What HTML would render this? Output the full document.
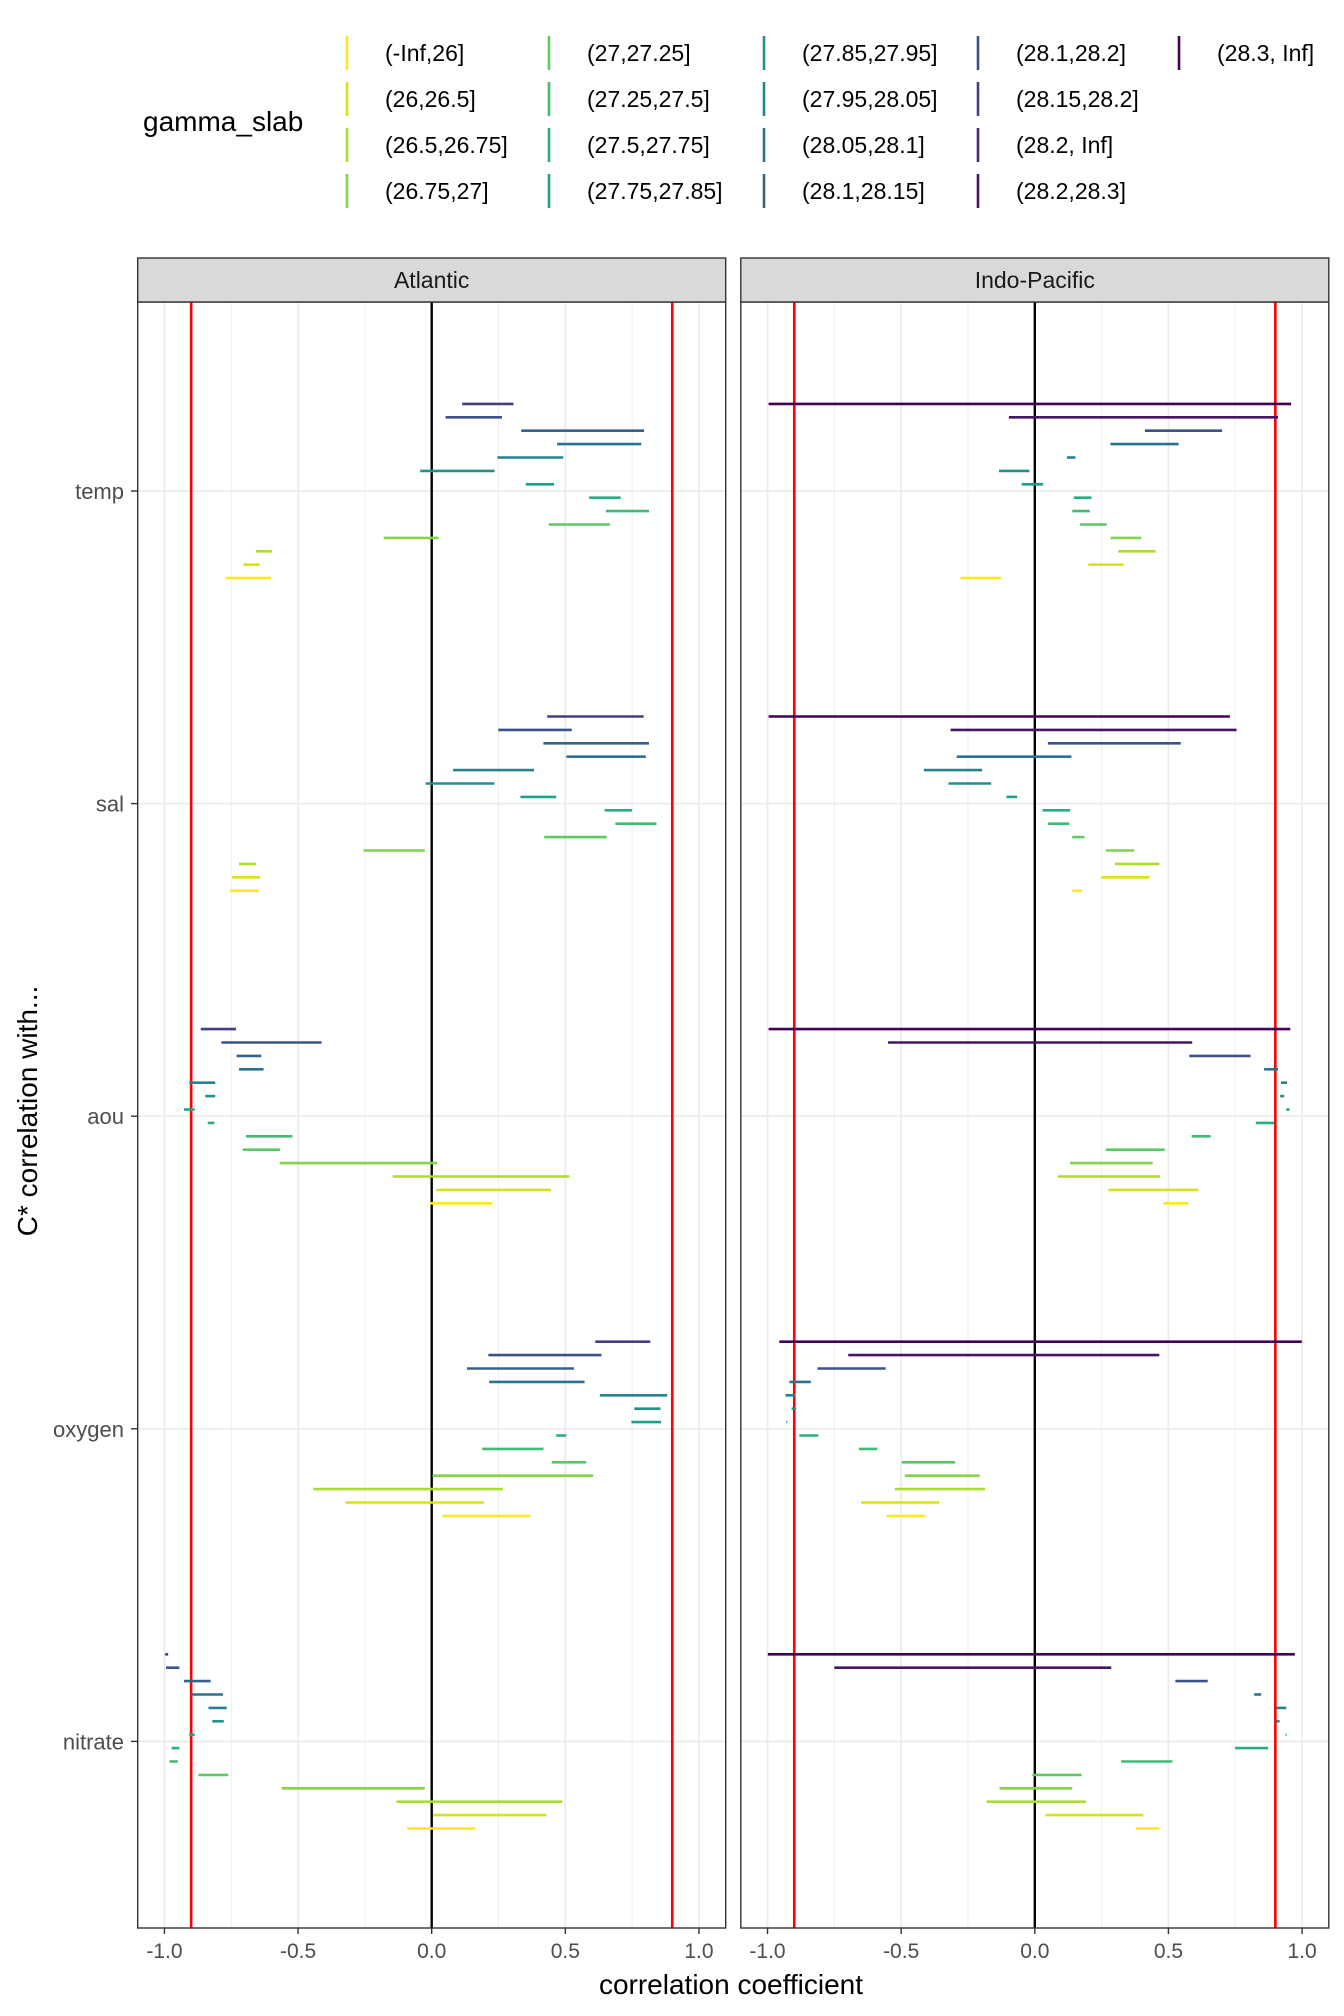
<!DOCTYPE html>
<html><head><meta charset="utf-8"><style>
html,body{margin:0;padding:0;background:#fff;}
svg{display:block;font-family:"Liberation Sans",Arial,sans-serif;}
</style></head><body>
<svg id="chart" width="1344" height="2016" viewBox="0 0 1344 2016" xmlns="http://www.w3.org/2000/svg"></svg>
<script>
const categories = ["temp","sal","aou","oxygen","nitrate"];
const facets = ["Atlantic","Indo-Pacific"];
const legendLevels = ["(-Inf,26]","(26,26.5]","(26.5,26.75]","(26.75,27]","(27,27.25]","(27.25,27.5]","(27.5,27.75]","(27.75,27.85]","(27.85,27.95]","(27.95,28.05]","(28.05,28.1]","(28.1,28.15]","(28.1,28.2]","(28.15,28.2]","(28.2, Inf]","(28.2,28.3]","(28.3, Inf]"];
const xTicks = [-1.0,-0.5,0.0,0.5,1.0];
const xTickLabels = ["-1.0","-0.5","0.0","0.5","1.0"];
const refLines = [-0.9,0.9];
const atlRowLevels = [13,12,11,10,9,8,7,6,5,4,3,2,1,0];
const indoRowLevels = [16,15,12,10,9,8,7,6,5,4,3,2,1,0];
const atlTemp = [[.114,.306],[.052,.263],[.335,.795],[.469,.784],[.246,.492],[-.043,.235],[.352,.458],[.589,.707],[.652,.813],[.438,.667],[-.180,.026],[-.658,-.598],[-.704,-.644],[-.770,-.601]];
const atlSal = [[.432,.793],[.249,.524],[.418,.813],[.504,.801],[.080,.383],[-.023,.235],[.332,.466],[.647,.750],[.687,.841],[.421,.655],[-.255,-.026],[-.721,-.658],[-.747,-.641],[-.755,-.647]];
const atlAou = [[-.864,-.732],[-.787,-.412],[-.730,-.638],[-.721,-.629],[-.907,-.810],[-.847,-.810],[-.927,-.887],[-.838,-.813],[-.695,-.521],[-.707,-.567],[-.569,.020],[-.146,.515],[.017,.446],[-.006,.226]];
const atlOxy = [[.612,.818],[.212,.635],[.132,.532],[.215,.572],[.629,.881],[.758,.856],[.747,.858],[.466,.504],[.189,.418],[.449,.578],[.003,.604],[-.443,.266],[-.323,.195],[.040,.369]];
const atlNit = [[-.997,-.986],[-.994,-.944],[-.927,-.827],[-.901,-.781],[-.835,-.767],[-.821,-.778],[-.907,-.887],[-.973,-.944],[-.981,-.950],[-.873,-.761],[-.561,-.026],[-.132,.489],[.006,.429],[-.092,.163]];
const indoTemp = [[-.996,.959],[-.097,.910],[.412,.701],[.283,.538],[.120,.152],[-.134,-.020],[-.049,.031],[.146,.212],[.140,.206],[.169,.269],[.283,.398],[.312,.452],[.200,.332],[-.278,-.126]];
const indoSal = [[-.996,.730],[-.315,.755],[.049,.546],[-.292,.137],[-.415,-.197],[-.323,-.163],[-.106,-.066],[.029,.132],[.049,.129],[.140,.186],[.266,.372],[.300,.466],[.249,.429],[.140,.177]];
const indoAou = [[-.996,.956],[-.549,.589],[.578,.807],[.858,.910],[.921,.944],[.918,.933],[.941,.953],[.827,.896],[.587,.658],[.266,.486],[.132,.441],[.086,.469],[.275,.612],[.481,.575]];
const indoOxy = [[-.956,.999],[-.698,.466],[-.813,-.558],[-.918,-.838],[-.933,-.898],[-.910,-.893],[-.930,-.927],[-.881,-.810],[-.658,-.589],[-.498,-.298],[-.486,-.206],[-.524,-.186],[-.650,-.358],[-.555,-.409]];
const indoNit = [[-.999,.973],[-.750,.286],[.526,.647],[.821,.847],[.904,.941],[.904,.916],[.938,.941],[.750,.873],[.323,.515],[-.009,.175],[-.132,.140],[-.180,.192],[.040,.406],[.378,.466]];

const viridis = ["#440154","#471466","#482878","#433e85","#3b528b","#33638d","#2c728e","#26828e","#21918c","#1fa088","#27ad81","#3fbc73","#5ec962","#84d44b","#addc30","#d8e219","#fde725"];
function levelColor(L){return viridis[16-L];}

const NS="http://www.w3.org/2000/svg";
const svg=document.getElementById('chart');
function mk(tag,attrs,parent){const e=document.createElementNS(NS,tag);for(const k in attrs)e.setAttribute(k,attrs[k]);(parent||svg).appendChild(e);return e;}

const panels=[{name:"Atlantic",left:137.7,right:725.7,data:[atlTemp,atlSal,atlAou,atlOxy,atlNit],rows:atlRowLevels},
              {name:"Indo-Pacific",left:740.8,right:1328.8,data:[indoTemp,indoSal,indoAou,indoOxy,indoNit],rows:indoRowLevels}];
const plotTop=302, plotBot=1928, stripTop=257;
const catStep=312.6, cat0=491, rowStep=13.4;
function yCat(i){return cat0+i*catStep;}
function yRow(ci,r){return yCat(ci)+(r-6.5)*rowStep;}

panels.forEach((p,pi)=>{
  const xs=v=>p.left+(v+1.1)/2.2*(p.right-p.left);
  const g=mk('g',{});
  
  
  [-0.75,-0.25,0.25,0.75].forEach(v=>{const l=mk('line',{x1:xs(v),x2:xs(v),y1:plotTop,y2:plotBot,stroke:'#ebebeb','stroke-width':0.8},g);
    });
  xTicks.forEach(v=>{const l=mk('line',{x1:xs(v),x2:xs(v),y1:plotTop,y2:plotBot,stroke:'#ebebeb','stroke-width':1.7},g);
    });
  categories.forEach((c,ci)=>{const l=mk('line',{x1:p.left,x2:p.right,y1:yCat(ci),y2:yCat(ci),stroke:'#ebebeb','stroke-width':1.7},g);
    });
  refLines.forEach(v=>{const l=mk('line',{x1:xs(v),x2:xs(v),y1:plotTop,y2:plotBot,stroke:'#ff0000','stroke-width':2.6},g);
    });
  const z=mk('line',{x1:xs(0),x2:xs(0),y1:plotTop,y2:plotBot,stroke:'#000','stroke-width':2.4},g);
  
  p.data.forEach((arr,ci)=>{arr.forEach((d,r)=>{
    const y=yRow(ci,r);
    const s=mk('line',{x1:xs(d[0]),x2:Math.max(xs(d[1]),xs(d[0])+1),y1:y,y2:y,stroke:levelColor(p.rows[r]),'stroke-width':2.6},g);
    
    
  });});
  const b=mk('rect',{x:p.left,y:plotTop,width:p.right-p.left,height:plotBot-plotTop,fill:'none',stroke:'#333','stroke-width':1.4},g);
  
  const st=mk('rect',{x:p.left,y:stripTop+1,width:p.right-p.left,height:plotTop-stripTop-1,fill:'#d9d9d9',stroke:'#333','stroke-width':1.4},g);
  
  const stt=mk('text',{x:(p.left+p.right)/2,y:stripTop+31,'text-anchor':'middle','font-size':23,fill:'#1a1a1a'},g);
  stt.textContent=p.name;
  
  xTicks.forEach((v,i)=>{
    const t=mk('line',{x1:xs(v),x2:xs(v),y1:plotBot,y2:plotBot+6,stroke:'#333','stroke-width':1.4},g);
    
    const tl=mk('text',{x:xs(v),y:plotBot+30,'text-anchor':'middle','font-size':21,fill:'#4d4d4d'},g);
    tl.textContent=xTickLabels[i];
    
  });
});
categories.forEach((c,ci)=>{
  const t=mk('line',{x1:131,x2:137.7,y1:yCat(ci),y2:yCat(ci),stroke:'#333','stroke-width':1.4});
  
  const tl=mk('text',{x:124,y:yCat(ci)+8,'text-anchor':'end','font-size':22,fill:'#4d4d4d'});
  tl.textContent=c;
  
});
const xt=mk('text',{x:731,y:1994,'text-anchor':'middle','font-size':28,fill:'#000'});
xt.textContent="correlation coefficient";

const yt=mk('text',{x:0,y:0,'text-anchor':'middle','font-size':28,fill:'#000',transform:'translate(37,1111) rotate(-90)'});
yt.textContent="C* correlation with...";

const lt=mk('text',{x:143,y:131,'font-size':28,fill:'#000'});
lt.textContent="gamma_slab";

const colKeyX=[347,549,764,978,1179], rowY=[53,99,145,191];
legendLevels.forEach((lab,L)=>{
  const col=Math.floor(L/4), row=L%4;
  const g=mk('g',{});
  
  mk('line',{x1:colKeyX[col],x2:colKeyX[col],y1:rowY[row]-17,y2:rowY[row]+17,stroke:levelColor(L),'stroke-width':2.6},g);
  const t=mk('text',{x:colKeyX[col]+38,y:rowY[row]+8,'font-size':23,fill:'#000'},g);
  t.textContent=lab;
});
</script>
</body></html>
